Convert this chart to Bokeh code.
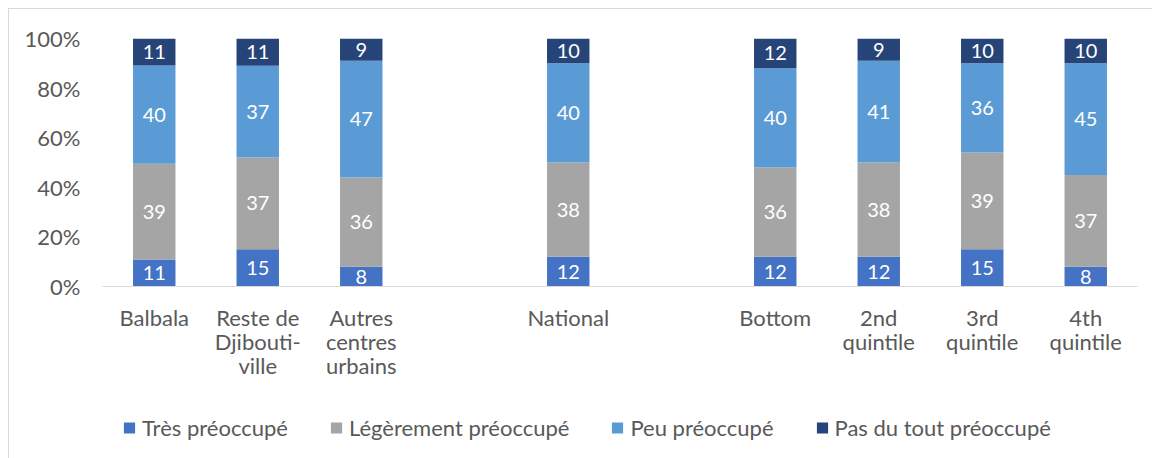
from bokeh.plotting import figure
from bokeh.layouts import column
from bokeh.models import ColumnDataSource, Legend, LegendItem, FixedTicker, NumeralTickFormatter, Range1d
from bokeh.core.properties import value
from bokeh.embed import file_html
from bokeh.resources import INLINE

# ---- data ----
categories = ["Balbala", "Reste de\nDjibouti-\nville", "Autres\ncentres\nurbains", "",
              "National", "", "Bottom", "2nd\nquintile", "3rd\nquintile", "4th\nquintile"]
series_names = ["Très préoccupé", "Légèrement préoccupé", "Peu préoccupé", "Pas du tout préoccupé"]
tres = [11, 15, 8, 12, 12, 12, 15, 8]
legerement = [39, 37, 36, 38, 36, 38, 39, 37]
peu = [40, 37, 47, 40, 40, 41, 36, 45]
pas_du_tout = [11, 11, 9, 10, 12, 9, 10, 10]
y_ticks = [0, 0.2, 0.4, 0.6, 0.8, 1.0]

colors = ["#4472C4", "#A5A5A5", "#5B9BD5", "#264478"]
FONT = "Lato"
TXT = "#595959"
AX_FS = "22px"
LBL_FS = "20px"

series = [tres, legerement, peu, pas_du_tout]
xs = [i for i, c in enumerate(categories) if c != ""]
totals = [sum(s[j] for s in series) for j in range(len(xs))]

p = figure(width=1144, height=400, output_backend="svg", toolbar_location=None,
           x_range=Range1d(-0.5, len(categories) - 0.5), y_range=Range1d(0, 1),
           min_border_left=93, min_border_right=16, min_border_top=29, min_border_bottom=123)
p.outline_line_color = None
p.xgrid.visible = False
p.ygrid.visible = False

sources = []
bottoms = [0.0] * len(xs)
for name, vals, col in zip(series_names, series, colors):
    tops = [b + v / t for b, v, t in zip(bottoms, vals, totals)]
    mids = [(b + t) / 2 for b, t in zip(bottoms, tops)]
    src = ColumnDataSource(dict(x=xs, bottom=bottoms, top=tops, mid=mids,
                                label=[str(v) for v in vals]))
    sources.append(src)
    p.vbar(x="x", bottom="bottom", top="top", width=0.41, source=src,
           fill_color=col, line_color=None)
    p.text(x="x", y="mid", text="label", source=src, text_color="white",
           text_align="center", text_baseline="middle", text_font=value(FONT),
           text_font_size=LBL_FS)
    bottoms = tops

# axes
p.yaxis.ticker = FixedTicker(ticks=y_ticks)
p.yaxis.formatter = NumeralTickFormatter(format="0%")
p.yaxis.axis_line_color = None
p.yaxis.major_tick_line_color = None
p.yaxis.minor_tick_line_color = None
p.yaxis.major_label_standoff = 16
p.yaxis.major_label_text_font = FONT
p.yaxis.major_label_text_font_size = AX_FS
p.yaxis.major_label_text_color = TXT

p.xaxis.ticker = FixedTicker(ticks=list(range(len(categories))))
p.xaxis.major_label_overrides = {i: c for i, c in enumerate(categories)}
p.xaxis.axis_line_color = "#d9d9d9"
p.xaxis.major_tick_line_color = None
p.xaxis.minor_tick_line_color = None
p.xaxis.major_label_standoff = 11
p.xaxis.major_label_text_font = FONT
p.xaxis.major_label_text_font_size = AX_FS
p.xaxis.major_label_text_line_height = 0.9
p.xaxis.major_label_text_color = TXT

# legend strip (swatches come from hidden copies of the series)
pl = figure(width=1144, height=50, output_backend="svg", toolbar_location=None,
            x_axis_location=None, y_axis_location=None,
            x_range=Range1d(-0.5, len(categories) - 0.5), y_range=Range1d(0, 1),
            min_border_left=93, min_border_right=16, min_border_top=0, min_border_bottom=14)
pl.outline_line_color = None
pl.grid.visible = False
items = []
for name, src, col in zip(series_names, sources, colors):
    r = pl.vbar(x="x", bottom="bottom", top="top", width=0.41, source=src,
                fill_color=col, line_color=None, visible=False)
    items.append(LegendItem(label=name, renderers=[r]))
legend = Legend(items=items, orientation="horizontal", location="left",
                glyph_width=14, glyph_height=14, label_standoff=6, spacing=41,
                padding=0, margin=20, border_line_color=None, background_fill_alpha=0,
                inactive_fill_alpha=0,
                label_text_font=FONT, label_text_font_size=AX_FS, label_text_color=TXT)
pl.add_layout(legend, "center")

layout = column(p, pl, spacing=0)
layout.styles = {"margin-left": "8px", "margin-top": "8px",
                 "border-left": "1px solid #d9d9d9", "border-top": "1px solid #d9d9d9"}

open("out.html", "w").write(file_html(layout, INLINE))
